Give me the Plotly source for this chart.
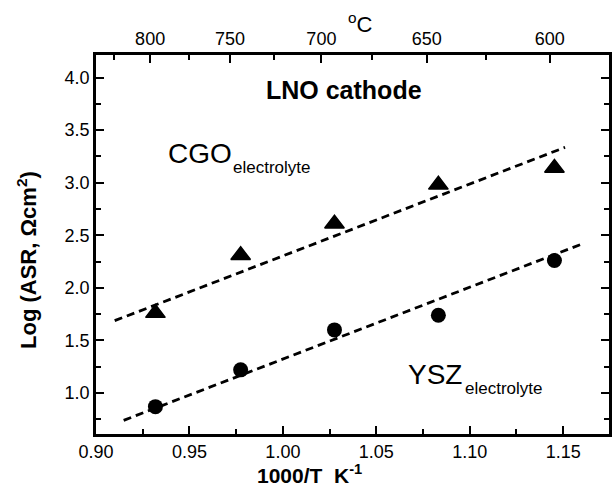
import plotly.graph_objects as go

# ---- data ----
inv_T = [0.9318, 0.9774, 1.0276, 1.0832, 1.1453]        # 1000/T, K^-1 (800..600 degC)
log_asr_cgo = [1.76, 2.31, 2.61, 2.98, 3.14]
log_asr_ysz = [0.87, 1.22, 1.60, 1.74, 2.26]

# dashed fit lines (end points)
fit_cgo_x = [0.910, 1.151]
fit_cgo_y = [1.688, 3.337]
fit_ysz_x = [0.9148, 1.1612]
fit_ysz_y = [0.740, 2.425]

# top axis (degC) labels
top_major_C = [800, 750, 700, 650, 600]
top_minor_C = [825, 775, 725, 675, 625]

FONT = "Liberation Sans, Arial, sans-serif"

# plot area in pixels
L, R, T, B = 95.5, 612.0, 55.0, 434.0
W, H = 613, 487

def px(x):
    return (x - L) / (R - L)

def py(y):
    return (B - y) / (B - T)

fig = go.Figure()
dash = "8px,5px"
fig.add_trace(go.Scatter(x=fit_cgo_x, y=fit_cgo_y, mode="lines",
                         line=dict(color="black", width=2.8, dash=dash),
                         showlegend=False, hoverinfo="skip"))
fig.add_trace(go.Scatter(x=fit_ysz_x, y=fit_ysz_y, mode="lines",
                         line=dict(color="black", width=2.8, dash=dash),
                         showlegend=False, hoverinfo="skip"))
fig.add_trace(go.Scatter(x=inv_T, y=log_asr_cgo, mode="markers",
                         marker=dict(symbol="triangle-up", size=17, color="black",
                                     line=dict(color="black", width=1.5)),
                         showlegend=False))
fig.add_trace(go.Scatter(x=inv_T, y=log_asr_ysz, mode="markers",
                         marker=dict(symbol="circle", size=15, color="black"),
                         showlegend=False))

top_vals = [1000.0 / c for c in top_major_C]
top_minor_vals = [1000.0 / c for c in top_minor_C]
# invisible trace to activate the top axis
fig.add_trace(go.Scatter(x=top_vals, y=[2.0] * len(top_vals), xaxis="x2", mode="markers",
                         marker=dict(opacity=0), showlegend=False, hoverinfo="skip"))

axis_common = dict(showline=True, linecolor="black", linewidth=2.5, showgrid=False,
                   zeroline=False, ticks="inside", ticklen=8, tickwidth=2,
                   tickcolor="black", tickfont=dict(family=FONT, size=18, color="black"))

fig.update_layout(
    width=W, height=H,
    margin=dict(l=L, r=W - R, t=T, b=H - B, pad=0),
    paper_bgcolor="white", plot_bgcolor="white",
    xaxis=dict(range=[0.90, 1.1745], tick0=0.9, dtick=0.05, tickformat=".2f",
               minor=dict(dtick=0.025, ticks="inside", ticklen=5, tickwidth=2, tickcolor="black"),
               **axis_common),
    xaxis2=dict(overlaying="x", side="top", range=[1.19355, 1.7285],
                tickmode="array", tickvals=top_vals, ticktext=[str(c) for c in top_major_C],
                minor=dict(tickmode="array", tickvals=top_minor_vals, ticks="inside",
                           ticklen=5, tickwidth=2, tickcolor="black"),
                **axis_common),
    yaxis=dict(range=[0.61, 4.215], tick0=0, dtick=0.5, tickformat=".1f", mirror="ticks",
               minor=dict(dtick=0.25, ticks="inside", ticklen=5, tickwidth=2, tickcolor="black"),
               **axis_common),
)

ann = [
    dict(text="<b>LNO cathode</b>", x=px(345), y=py(90), size=25),
    dict(text="CGO", x=px(200), y=py(153), size=28),
    dict(text="electrolyte", x=px(272), y=py(167), size=17),
    dict(text="YSZ", x=px(437), y=py(374), size=28),
    dict(text="electrolyte", x=px(506), y=py(388), size=17),
    dict(text="<sup>o</sup>C", x=px(362), y=py(23), size=22),
    dict(text="<b>1000/T  K<sup>-1</sup></b>", x=px(310), y=py(474), size=21),
]
for a in ann:
    fig.add_annotation(text=a["text"], x=a["x"], y=a["y"], xref="paper", yref="paper",
                       showarrow=False, xanchor="center", yanchor="middle",
                       font=dict(family=FONT, size=a["size"], color="black"))
fig.add_annotation(text="<b>Log (ASR, Ωcm<sup>2</sup>)</b>", x=px(26), y=py(260),
                   xref="paper", yref="paper", showarrow=False, textangle=-90,
                   xanchor="center", yanchor="middle",
                   font=dict(family=FONT, size=22, color="black"))

fig.write_html("out.html")
